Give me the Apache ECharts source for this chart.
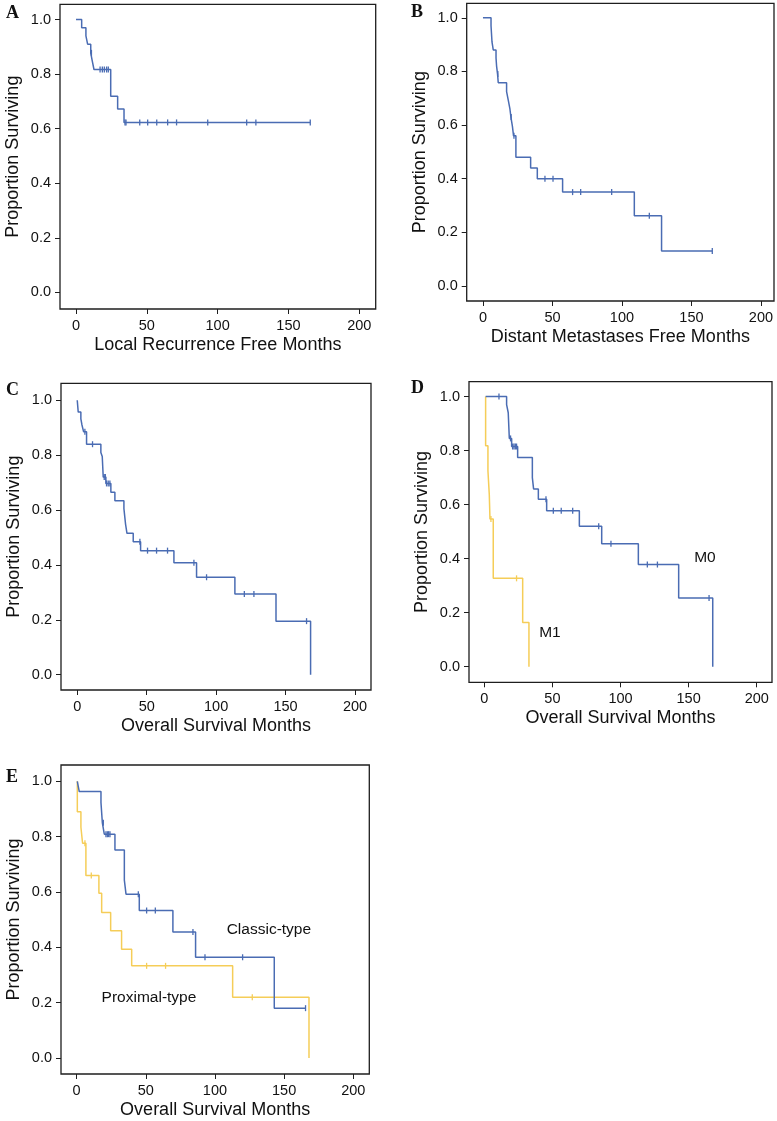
<!DOCTYPE html>
<html>
<head>
<meta charset="utf-8">
<script src="https://cdn.jsdelivr.net/npm/echarts@6/dist/echarts.min.js"></script>
<style>
html,body{margin:0;padding:0;background:#fff;}
#chart{width:777px;height:1121px;}
</style>
</head>
<body>
<div id="chart"></div>
<script>
// ---------- data (months, proportion surviving) ----------
const xTicks = [0, 50, 100, 150, 200];
const yTicks = [0, 0.2, 0.4, 0.6, 0.8, 1.0];

// A: Local recurrence free
const A_times = [0, 4.0, 7.0, 8.2, 10.4, 11.5, 12.7, 24.5, 29.4, 33.9, 165.4];
const A_surv  = [1.0, 0.97, 0.94, 0.91, 0.878, 0.848, 0.817, 0.719, 0.672, 0.623, 0.623];
const A_cens  = [10.9, 17.0, 18.6, 20.0, 21.6, 22.8, 34.6, 35.3, 45.0, 50.6, 57.0, 64.7, 71.0, 93.0, 120.5, 127.0, 165.4];

// B: Distant metastases free
const B_times = [0, 5.8, 6.5, 7.4, 9.4, 9.8, 10.5, 11.0, 17.0, 18.2, 19.4, 20.1, 21.2, 22.0, 23.7, 34.3, 39.1, 57.3, 108.9, 128.5, 165.0];
const B_surv  = [1.0, 0.97, 0.91, 0.88, 0.85, 0.82, 0.79, 0.758, 0.725, 0.693, 0.66, 0.63, 0.595, 0.56, 0.48, 0.44, 0.40, 0.35, 0.262, 0.13, 0.13];
const B_cens  = [10.7, 20.3, 22.3, 44.6, 50.4, 64.5, 70.3, 92.6, 119.7, 165.0];

// C: Overall survival
const C_times = [0, 0.7, 2.6, 3.4, 4.6, 6.7, 17.0, 18.0, 18.7, 20.6, 24.2, 27.1, 33.6, 34.8, 35.8, 40.3, 45.6, 69.6, 85.9, 113.5, 143.1, 168.0];
const C_surv  = [1.0, 0.957, 0.932, 0.91, 0.885, 0.84, 0.81, 0.795, 0.72, 0.697, 0.665, 0.634, 0.605, 0.548, 0.515, 0.484, 0.452, 0.408, 0.355, 0.294, 0.195, 0.0];
const C_cens  = [5.5, 11.0, 19.4, 20.2, 21.1, 22.3, 23.5, 45.1, 50.6, 57.1, 65.0, 84.0, 93.1, 120.3, 127.2, 165.1];

// D: Overall survival by M stage
const M0_times = [1.0, 16.4, 17.6, 18.4, 20.1, 24.5, 35.3, 36.2, 39.7, 45.8, 69.8, 86.2, 113.1, 142.7, 167.7];
const M0_surv  = [1.0, 0.97, 0.94, 0.845, 0.815, 0.774, 0.70, 0.658, 0.62, 0.577, 0.52, 0.455, 0.378, 0.254, 0.0];
const M0_cens  = [10.8, 19.3, 20.8, 21.8, 22.8, 23.7, 45.3, 50.7, 56.5, 64.9, 84.0, 93.0, 119.7, 127.1, 165.0];
const M1_times = [1.0, 1.0, 2.7, 3.7, 4.2, 6.6, 28.2, 32.8];
const M1_surv  = [1.0, 0.818, 0.725, 0.636, 0.547, 0.327, 0.163, 0.0];
const M1_cens  = [4.9, 23.7];

// E: Overall survival by type
const CL_times = [0.5, 1.9, 17.6, 18.6, 20.0, 27.7, 34.5, 35.7, 45.3, 69.6, 86.0, 142.9, 165.5];
const CL_surv  = [1.0, 0.963, 0.923, 0.85, 0.809, 0.752, 0.643, 0.592, 0.533, 0.455, 0.364, 0.18, 0.18];
const CL_cens  = [19.3, 21.2, 22.2, 23.1, 24.1, 44.6, 50.6, 56.9, 84.1, 92.8, 120.0, 165.5];
const PR_times = [0.5, 0.5, 3.1, 4.3, 6.7, 16.1, 18.1, 24.6, 32.5, 39.8, 112.8, 168.0];
const PR_surv  = [1.0, 0.89, 0.834, 0.776, 0.66, 0.595, 0.526, 0.46, 0.393, 0.333, 0.219, 0.0];
const PR_cens  = [6.0, 10.6, 50.6, 64.3, 127.0];

// ---------- helpers ----------
const BLUE = '#4a6cb3', YELLOW = '#f5cd58', INK = '#111111';
const FONT = '"Liberation Sans", Arial, Helvetica, sans-serif';

function curve(times, surv) { return times.map((t, i) => [t, surv[i]]); }
function valueAt(times, surv, t) {
  let v = surv[0];
  for (let i = 0; i < times.length; i++) { if (times[i] <= t) v = surv[i]; }
  return v;
}
function censors(times, surv, cens) { return cens.map(t => [t, valueAt(times, surv, t)]); }

const panels = [
  {grid:{left:60, top:4.3, width:315.7, height:304.7}, x:[-11.3, 211.6], y:[-0.061, 1.056], xname:'Local Recurrence Free Months', letter:'A'},
  {grid:{left:466.7, top:3.3, width:307.3, height:297.7}, x:[-11.7, 209.4], y:[-0.056, 1.054], xname:'Distant Metastases Free Months', letter:'B'},
  {grid:{left:61, top:383.3, width:310, height:306.7}, x:[-11.7, 211.5], y:[-0.056, 1.062], xname:'Overall Survival Months', letter:'C'},
  {grid:{left:469, top:381.7, width:303, height:300.6}, x:[-11.2, 211.2], y:[-0.058, 1.055], xname:'Overall Survival Months', letter:'D'},
  {grid:{left:61, top:765, width:308.3, height:309}, x:[-11.3, 211.6], y:[-0.058, 1.059], xname:'Overall Survival Months', letter:'E'}
];

const grids = [], xAxes = [], yAxes = [], series = [], graphics = [];
panels.forEach((p, i) => {
  grids.push(Object.assign({show:true, borderColor:'#1e1e1e', borderWidth:1.3, backgroundColor:'transparent', containLabel:false}, p.grid));
  xAxes.push({
    gridIndex:i, type:'value', min:p.x[0], max:p.x[1],
    axisLine:{show:false, onZero:false}, splitLine:{show:false},
    axisTick:{show:true, customValues:xTicks, length:5, lineStyle:{color:'#1e1e1e', width:1}},
    axisLabel:{customValues:xTicks, fontSize:14.5, color:INK, fontFamily:FONT, margin:9},
    name:p.xname, nameLocation:'middle', nameGap:27,
    nameTextStyle:{fontSize:18, color:INK, fontFamily:FONT}
  });
  yAxes.push({
    gridIndex:i, type:'value', min:p.y[0], max:p.y[1],
    axisLine:{show:false, onZero:false}, splitLine:{show:false},
    axisTick:{show:true, customValues:yTicks, length:5, lineStyle:{color:'#1e1e1e', width:1}},
    axisLabel:{customValues:yTicks, fontSize:14.5, color:INK, fontFamily:FONT, margin:9,
      formatter: v => v.toFixed(1)},
    name:'Proportion Surviving', nameLocation:'middle', nameGap:38, nameRotate:90,
    nameTextStyle:{fontSize:18, color:INK, fontFamily:FONT}
  });
});

function addKM(idx, times, surv, cens, color) {
  series.push({type:'line', xAxisIndex:idx, yAxisIndex:idx, step:'end', showSymbol:false,
    data:curve(times, surv), lineStyle:{color:color, width:1.5}, itemStyle:{color:color},
    animation:false, silent:true, z:3});
  series.push({type:'scatter', xAxisIndex:idx, yAxisIndex:idx, symbol:'rect', symbolSize:[1.3, 6],
    data:censors(times, surv, cens), itemStyle:{color:color, opacity:1}, animation:false, silent:true, z:4});
}
addKM(0, A_times, A_surv, A_cens, BLUE);
addKM(1, B_times, B_surv, B_cens, BLUE);
addKM(2, C_times, C_surv, C_cens, BLUE);
addKM(3, M1_times, M1_surv, M1_cens, YELLOW);
addKM(3, M0_times, M0_surv, M0_cens, BLUE);
addKM(4, PR_times, PR_surv, PR_cens, YELLOW);
addKM(4, CL_times, CL_surv, CL_cens, BLUE);

function addText(idx, items) {
  series.push({type:'scatter', xAxisIndex:idx, yAxisIndex:idx, symbolSize:0, silent:true, animation:false,
    itemStyle:{opacity:1},
    data:items.map(it => ({value:[it[0], it[1]], label:{show:true, formatter:it[2], position:'inside',
      fontSize:15.5, color:INK, fontFamily:FONT}}))});
}
addText(3, [[162, 0.403, 'M0'], [48.2, 0.125, 'M1']]);
addText(4, [[139, 0.463, 'Classic-type'], [52.3, 0.217, 'Proximal-type']]);

const letterPos = [[13, 13], [418, 12], [13, 390], [418, 388], [13, 777]];
panels.forEach((p, i) => {
  graphics.push({type:'text', left:letterPos[i][0] - 7, top:letterPos[i][1] - 9,
    style:{text:p.letter, fontSize:18, fontWeight:'bold', fontFamily:'"Liberation Serif", "Times New Roman", serif', fill:'#111'}});
});

const chart = echarts.init(document.getElementById('chart'), null, {renderer:'canvas'});
chart.setOption({
  animation:false,
  backgroundColor:'#fff',
  grid:grids, xAxis:xAxes, yAxis:yAxes, series:series, graphic:graphics
});
</script>
</body>
</html>
